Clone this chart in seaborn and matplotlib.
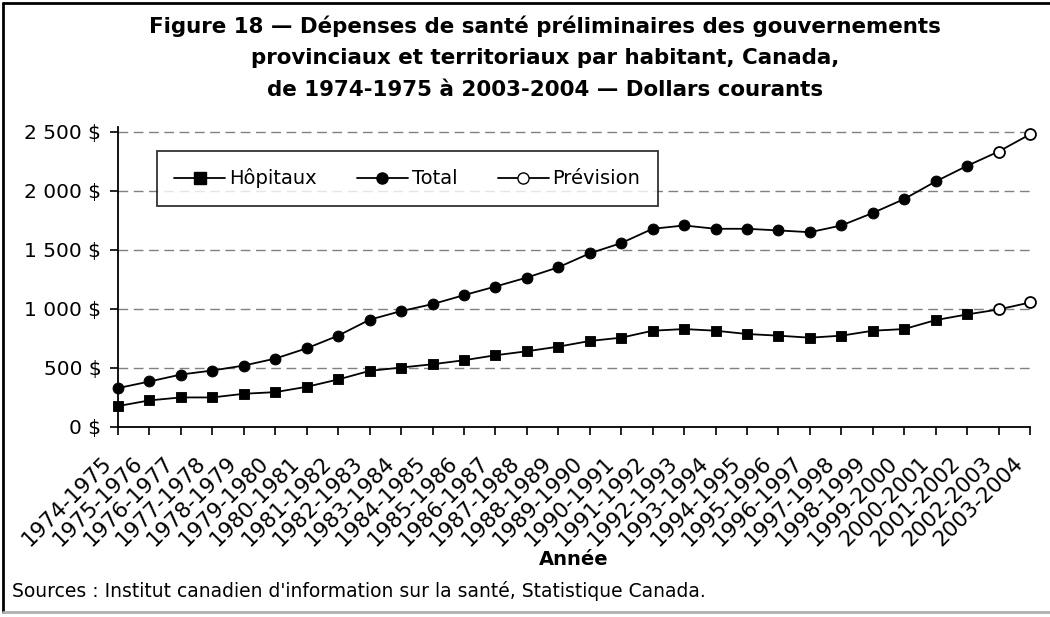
import matplotlib
matplotlib.use("Agg")
import matplotlib.pyplot as plt
import matplotlib.transforms as mtransforms
from matplotlib.lines import Line2D
import pandas as pd
import seaborn as sns

years = ["1974-1975", "1975-1976", "1976-1977", "1977-1978", "1978-1979",
         "1979-1980", "1980-1981", "1981-1982", "1982-1983", "1983-1984",
         "1984-1985", "1985-1986", "1986-1987", "1987-1988", "1988-1989",
         "1989-1990", "1990-1991", "1991-1992", "1992-1993", "1993-1994",
         "1994-1995", "1995-1996", "1996-1997", "1997-1998", "1998-1999",
         "1999-2000", "2000-2001", "2001-2002", "2002-2003", "2003-2004"]
hopitaux = [177, 225, 250, 250, 281, 295, 340, 402, 475, 503,
            531, 565, 607, 641, 680, 728, 756, 815, 829, 815,
            787, 773, 756, 773, 815, 829, 905, 953, 995, 1054]
total = [329, 385, 444, 478, 520, 579, 666, 773, 908, 981,
         1040, 1116, 1189, 1265, 1352, 1470, 1557, 1678, 1706, 1678,
         1678, 1664, 1649, 1706, 1812, 1930, 2079, 2211, 2332, 2478]
n_forecast = 2  # les deux dernieres annees sont des previsions
y_ticks = [0, 500, 1000, 1500, 2000, 2500]

title = ("Figure 18 \u2014 Dépenses de santé préliminaires des gouvernements\n"
         "provinciaux et territoriaux par habitant, Canada,\n"
         "de 1974-1975 à 2003-2004 \u2014 Dollars courants")
source = "Sources : Institut canadien d'information sur la santé, Statistique Canada."

df = pd.DataFrame({"Année": years, "Hôpitaux": hopitaux, "Total": total})
df["pos"] = range(len(df))
actual = df.iloc[:-n_forecast]
forecast = df.iloc[-n_forecast:]

sns.set_style("white")
plt.rcParams["font.family"] = ["DejaVu Sans"]
plt.rcParams["text.color"] = "black"
plt.rcParams["xtick.color"] = "black"
plt.rcParams["ytick.color"] = "black"
plt.rcParams["axes.labelcolor"] = "black"

fig = plt.figure(figsize=(10.5, 6.17), dpi=100)
ax = fig.add_axes([0.1124, 0.308, 0.8686, 0.4862])

ax.set_ylim(0, 2540)
ax.set_xlim(0, len(years) - 1)
for v in y_ticks[1:]:
    ax.axhline(v, color="#808080", lw=1, dashes=(7, 4), zorder=0)

for col, mk in [("Hôpitaux", "s"), ("Total", "o")]:
    sns.lineplot(data=df, x="pos", y=col, ax=ax, color="black", lw=1.3,
                 zorder=2, clip_on=False)
    sns.scatterplot(data=actual, x="pos", y=col, ax=ax, marker=mk, s=62,
                    color="black", edgecolor="black", zorder=3, clip_on=False)
    sns.scatterplot(data=forecast, x="pos", y=col, ax=ax, marker="o", s=62,
                    color="white", edgecolor="black", linewidth=1.3,
                    zorder=3, clip_on=False)

# etiquettes de l'axe x placees a la main (decalage fin a gauche)
ax.set_xticks(df["pos"])
ax.set_xticklabels([])
lab_tr = ax.get_xaxis_transform() + mtransforms.ScaledTranslation(
    -10 / 100, -33 / 100, fig.dpi_scale_trans)
for p, yr in zip(df["pos"], years):
    ax.text(p, 0, yr, transform=lab_tr, rotation=45, ha="right", va="center",
            rotation_mode="anchor", fontsize=15.5)

ax.set_yticks(y_ticks)
ax.set_yticklabels([f"{v:,} $".replace(",", " ") for v in y_ticks],
                   fontsize=14.5)
ax.tick_params(axis="both", direction="out", length=6, width=1.2,
               color="black", bottom=True, left=True)
ax.tick_params(axis="y", pad=6)
ax.set_xlabel("Année", fontsize=14, fontweight="bold", va="center")
ax.xaxis.set_label_coords(0.5, -0.443)
ax.set_ylabel("")
for s in ["top", "right"]:
    ax.spines[s].set_visible(False)
for s in ["left", "bottom"]:
    ax.spines[s].set_color("black")
    ax.spines[s].set_linewidth(1.3)

handles = [
    Line2D([], [], color="black", lw=1.3, marker="s", markersize=8),
    Line2D([], [], color="black", lw=1.3, marker="o", markersize=8),
    Line2D([], [], color="black", lw=1.3, marker="o", markersize=8,
           markerfacecolor="white"),
]
leg = ax.legend(handles, ["Hôpitaux", "Total", "Prévision"], ncol=3,
                loc="upper left", bbox_to_anchor=(0.0425, 0.92),
                fontsize=14, frameon=True, fancybox=False,
                handlelength=2.6, handletextpad=0.2, columnspacing=2.1,
                borderpad=0.9, borderaxespad=0)
leg.get_frame().set_edgecolor("black")
leg.get_frame().set_linewidth(1.3)

fig.text(0.519, 0.975, title, ha="center", va="top", fontsize=15.4,
         fontweight="bold", linespacing=1.72)
fig.text(0.011, 0.042, source, ha="left", va="center", fontsize=13.5)

# cadre de la figure
fig.add_artist(Line2D([0.003, 1.0], [0.995, 0.995], color="black", lw=2))
fig.add_artist(Line2D([0.003, 0.003], [0.008, 0.995], color="black", lw=2))
fig.add_artist(Line2D([0.003, 1.0], [0.008, 0.008], color="#b0b0b0", lw=2))

fig.savefig("out.png", dpi=100)
